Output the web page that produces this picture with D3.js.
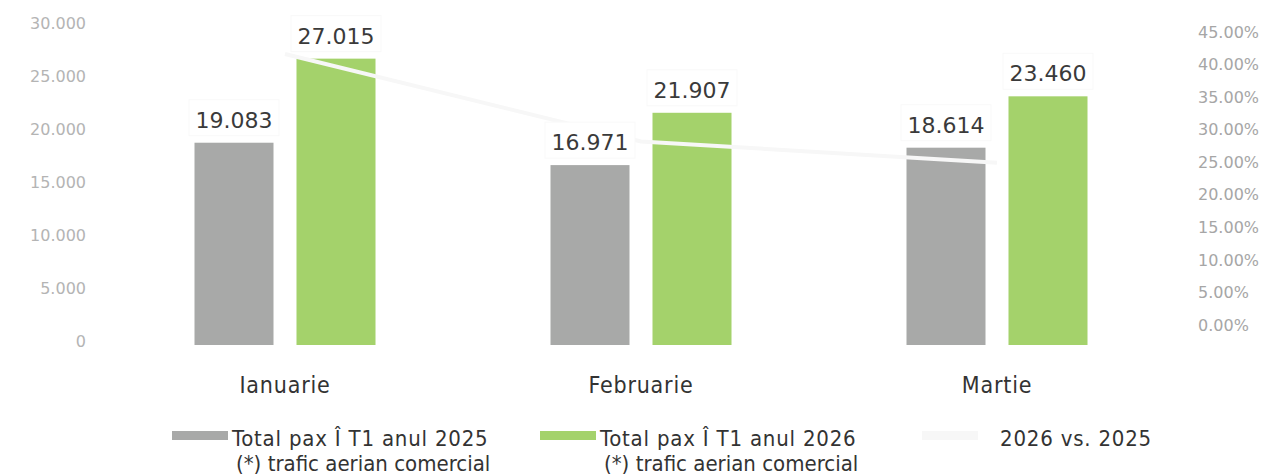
<!DOCTYPE html>
<html>
<head>
<meta charset="utf-8">
<script src="https://cdn.jsdelivr.net/npm/d3@7"></script>
<style>
  html, body { margin: 0; padding: 0; background: #fff; }
  svg { display: block; }
</style>
</head>
<body>
<svg id="chart" width="1277" height="475"></svg>
<script>
// ---- data ----
const months = ["Ianuarie", "Februarie", "Martie"];
const series = ["2025", "2026"];
const pax2025 = [19083, 16971, 18614];
const pax2026 = [27015, 21907, 23460];
const pctChange = [0.4157, 0.2908, 0.2603];
const leftTicks = [0, 5000, 10000, 15000, 20000, 25000, 30000];
const rightTicks = [0, 0.05, 0.10, 0.15, 0.20, 0.25, 0.30, 0.35, 0.40, 0.45];
const legendLabels = ["Total pax Î T1 anul 2025", "Total pax Î T1 anul 2026", "2026 vs. 2025"];
const legendSub = "(*) trafic aerian comercial";

// ---- styles ----
const colGray = "#a8a9a8";
const colGreen = "#a4d26b";
const colLine = "#f7f7f7";
const txtFont = "'DejaVu Sans Condensed', 'DejaVu Sans', sans-serif";
const numFont = "'DejaVu Sans', sans-serif";

const svg = d3.select("#chart");

const pIn = 175 / 356;
const x0 = d3.scaleBand().domain(months).range([107, 1175])
  .paddingInner(pIn).paddingOuter(pIn / 2);
const x1 = d3.scaleBand().domain(series).range([0, x0.bandwidth()])
  .paddingInner(0.2255).paddingOuter(0);
const y = d3.scaleLinear().domain([0, 30000]).range([345, 27]);
const yR = d3.scaleLinear().domain([0, 0.45]).range([345, 30]);
const yRLab = d3.scaleLinear().domain([0, 0.45]).range([325, 32]);

// left axis
const fmtThousands = d => d === 0 ? "0" : d3.format(",")(d).replace(/,/g, ".");
const gL = svg.append("g").attr("transform", "translate(86,0)")
  .call(d3.axisLeft(y).tickValues(leftTicks).tickFormat(fmtThousands).tickSize(0).tickPadding(0));
gL.select(".domain").remove();
gL.selectAll("text").attr("font-family", numFont).attr("font-size", 16)
  .attr("fill", "#b4b4b4").attr("dy", "0.1em");

// right axis
const fmtPct = d => d3.format(".2f")(d * 100) + "%";
const gR = svg.append("g").attr("transform", "translate(1198,0)")
  .call(d3.axisRight(yRLab).tickValues(rightTicks).tickFormat(fmtPct).tickSize(0).tickPadding(0));
gR.select(".domain").remove();
gR.selectAll("text").attr("font-family", numFont).attr("font-size", 16)
  .attr("fill", "#a6a6a6");

// bars
const rows = months.map((m, i) => ({ m, vals: [pax2025[i], pax2026[i]] }));
const groups = svg.append("g").selectAll("g").data(rows).join("g")
  .attr("transform", d => `translate(${x0(d.m)},0)`);
groups.selectAll("rect").data(d => d.vals.map((v, j) => ({ s: series[j], v })))
  .join("rect")
  .attr("x", d => x1(d.s))
  .attr("width", x1.bandwidth())
  .attr("y", d => y(d.v))
  .attr("height", d => y(0) - y(d.v))
  .attr("fill", d => d.s === "2025" ? colGray : colGreen);

// line
const line = d3.line().x((d, i) => x0(months[i]) + x0.bandwidth() / 2).y(d => yR(d));
svg.append("path").datum(pctChange).attr("d", line)
  .attr("fill", "none").attr("stroke", colLine).attr("stroke-width", 4);

// value labels with white boxes
const labG = svg.append("g").selectAll("g").data(rows).join("g")
  .attr("transform", d => `translate(${x0(d.m)},0)`);
const vl = labG.selectAll("g").data(d => d.vals.map((v, j) => ({ s: series[j], v })))
  .join("g");
vl.append("rect")
  .attr("x", d => x1(d.s) + x1.bandwidth() / 2 - 45)
  .attr("y", d => y(d.v) - 43)
  .attr("width", 90).attr("height", 36)
  .attr("fill", "#fff").attr("stroke", "#f9f9f9").attr("stroke-width", 1);
vl.append("text")
  .attr("x", d => x1(d.s) + x1.bandwidth() / 2)
  .attr("y", d => y(d.v) - 15)
  .attr("text-anchor", "middle")
  .attr("font-family", numFont).attr("font-size", 22)
  .attr("fill", "#3a3a3a")
  .text(d => d3.format(",")(d.v).replace(/,/g, "."));

// category labels
svg.append("g").selectAll("text").data(months).join("text")
  .attr("x", d => x0(d) + x0.bandwidth() / 2)
  .attr("y", 393)
  .attr("text-anchor", "middle")
  .attr("font-family", txtFont).attr("font-size", 23)
  .attr("letter-spacing", 0.8)
  .attr("fill", "#333")
  .text(d => d);

// legend
const legend = [
  { x: 172, type: "rect", color: colGray, label: legendLabels[0], sub: legendSub },
  { x: 540, type: "rect", color: colGreen, label: legendLabels[1], sub: legendSub },
  { x: 922, type: "line", color: colLine, label: legendLabels[2], sub: null }
];
const lg = svg.append("g").selectAll("g").data(legend).join("g")
  .attr("transform", d => `translate(${d.x},0)`);
lg.append("rect").attr("x", 0).attr("y", 431).attr("width", 56).attr("height", 9)
  .attr("fill", d => d.color);
lg.append("text").attr("x", d => d.type === "line" ? 78 : 60).attr("y", 446)
  .attr("font-family", txtFont).attr("font-size", 22).attr("fill", "#333")
  .attr("letter-spacing", 0.8)
  .text(d => d.label);
lg.filter(d => d.sub).append("text").attr("x", 64).attr("y", 471)
  .attr("font-family", txtFont).attr("font-size", 22).attr("fill", "#333")
  .text(d => d.sub);
</script>
</body>
</html>
